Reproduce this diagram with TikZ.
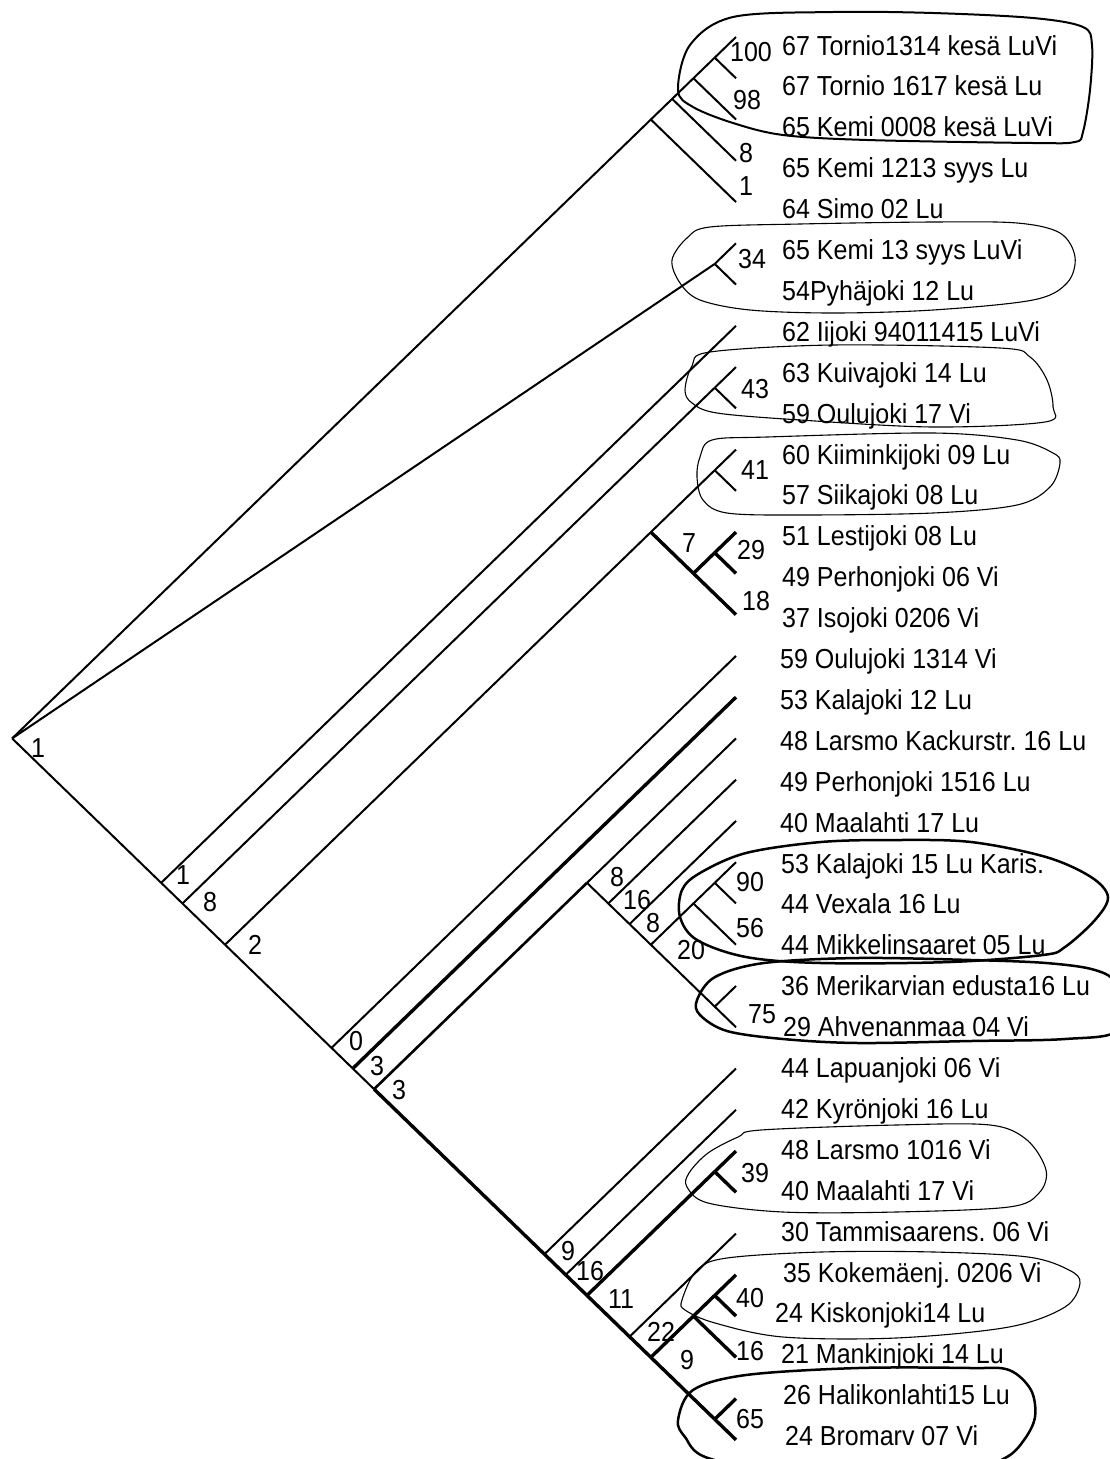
\documentclass[tikz,border=0pt]{standalone}
\usepackage{fontspec}
\setmainfont[FakeStretch=0.91]{Liberation Sans}
\frenchspacing
\begin{document}
\begin{tikzpicture}[x=1pt,y=-1pt,
  br/.style={line width=2pt},
  brmid/.style={line width=2.6pt},
  brthick/.style={line width=3.4pt},
  ovthin/.style={line width=1.1pt},
  ovmid/.style={line width=2pt},
  ovthick/.style={line width=2.5pt},
  lbl/.style={inner sep=0pt,anchor=center},
  leaf/.style={inner sep=0pt,anchor=base west},
  font=\fontsize{27.5}{31}\selectfont]
\useasboundingbox (0,0) rectangle (1110,1459);
\fill[white] (0,0) rectangle (1110,1459);
% tips
\coordinate (t1) at (736,37.00);
\coordinate (t2) at (736,78.26);
\coordinate (t3) at (736,119.52);
\coordinate (t4) at (736,160.78);
\coordinate (t5) at (736,202.04);
\coordinate (t6) at (736,243.30);
\coordinate (t7) at (736,284.56);
\coordinate (t8) at (736,325.82);
\coordinate (t9) at (736,367.08);
\coordinate (t10) at (736,408.34);
\coordinate (t11) at (736,449.60);
\coordinate (t12) at (736,490.86);
\coordinate (t13) at (736,532.12);
\coordinate (t14) at (736,573.38);
\coordinate (t15) at (736,614.64);
\coordinate (t16) at (736,655.90);
\coordinate (t17) at (736,697.16);
\coordinate (t18) at (736,738.42);
\coordinate (t19) at (736,779.68);
\coordinate (t20) at (736,820.94);
\coordinate (t21) at (736,862.20);
\coordinate (t22) at (736,903.46);
\coordinate (t23) at (736,944.72);
\coordinate (t24) at (736,985.98);
\coordinate (t25) at (736,1027.24);
\coordinate (t26) at (736,1068.50);
\coordinate (t27) at (736,1109.76);
\coordinate (t28) at (736,1151.02);
\coordinate (t29) at (736,1192.28);
\coordinate (t30) at (736,1233.54);
\coordinate (t31) at (736,1274.80);
\coordinate (t32) at (736,1316.06);
\coordinate (t33) at (736,1357.32);
\coordinate (t34) at (736,1398.58);
\coordinate (t35) at (736,1439.84);
% internal nodes
\coordinate (r) at (12.14,738.42);
\coordinate (nA) at (650.84,119.52);
\coordinate (nA1) at (672.13,98.89);
\coordinate (nA2) at (693.42,78.26);
\coordinate (nA3) at (714.71,57.63);
\coordinate (nB) at (714.71,263.93);
\coordinate (nC) at (161.17,882.83);
\coordinate (nD) at (182.46,903.46);
\coordinate (nE) at (714.71,387.71);
\coordinate (nG) at (225.04,944.72);
\coordinate (nX) at (650.84,532.12);
\coordinate (nH) at (714.71,470.23);
\coordinate (nJ) at (693.42,573.38);
\coordinate (nK) at (714.71,552.75);
\coordinate (nL) at (331.49,1047.87);
\coordinate (nM) at (352.78,1068.50);
\coordinate (nN) at (374.07,1089.13);
\coordinate (nO) at (586.97,882.83);
\coordinate (nO2) at (608.26,903.46);
\coordinate (nO3) at (629.55,924.09);
\coordinate (nO4) at (650.84,944.72);
\coordinate (nQa) at (693.42,903.46);
\coordinate (nQb) at (714.71,882.83);
\coordinate (nQc) at (714.71,1006.61);
\coordinate (nP) at (544.39,1254.17);
\coordinate (nQ) at (565.68,1274.80);
\coordinate (nR) at (586.97,1295.43);
\coordinate (nS) at (714.71,1171.65);
\coordinate (nT) at (629.55,1336.69);
\coordinate (nU) at (650.84,1357.32);
\coordinate (nV) at (693.42,1316.06);
\coordinate (nV1) at (714.71,1295.43);
\coordinate (nW) at (714.71,1419.21);
% thin branches
\draw[br] (r) -- (nA);
\draw[br] (r) -- (nB);
\draw[br] (r) -- (nC);
\draw[br] (nA) -- (nA1);
\draw[br] (nA) -- (t5);
\draw[br] (nA1) -- (nA2);
\draw[br] (nA1) -- (t4);
\draw[br] (nA2) -- (nA3);
\draw[br] (nA2) -- (t3);
\draw[br] (nA3) -- (t1);
\draw[br] (nA3) -- (t2);
\draw[br] (nB) -- (t6);
\draw[br] (nB) -- (t7);
\draw[br] (nC) -- (t8);
\draw[br] (nC) -- (nD);
\draw[br] (nD) -- (nE);
\draw[br] (nD) -- (nG);
\draw[br] (nE) -- (t9);
\draw[br] (nE) -- (t10);
\draw[br] (nG) -- (nX);
\draw[br] (nG) -- (nL);
\draw[br] (nX) -- (nH);
\draw[br] (nH) -- (t11);
\draw[br] (nH) -- (t12);
\draw[br] (nL) -- (t16);
\draw[br] (nL) -- (nM);
\draw[br] (nM) -- (nN);
\draw[br] (nO) -- (t18);
\draw[br] (nO) -- (nO2);
\draw[br] (nO2) -- (t19);
\draw[br] (nO2) -- (nO3);
\draw[br] (nO3) -- (t20);
\draw[br] (nO3) -- (nO4);
\draw[br] (nO4) -- (nQa);
\draw[br] (nO4) -- (nQc);
\draw[br] (nQa) -- (nQb);
\draw[br] (nQa) -- (t23);
\draw[br] (nQb) -- (t21);
\draw[br] (nQb) -- (t22);
\draw[br] (nQc) -- (t24);
\draw[br] (nQc) -- (t25);
\draw[br] (nP) -- (t26);
\draw[br] (nQ) -- (t27);
\draw[br] (nT) -- (t30);
\draw[brmid] (nN) -- (nO);
% thick branches
\draw[brthick] (nX) -- (nJ);
\draw[brthick] (nJ) -- (nK);
\draw[brthick] (nJ) -- (t15);
\draw[brthick] (nK) -- (t13);
\draw[brthick] (nK) -- (t14);
\draw[brthick] (nM) -- (t17);
\draw[brthick] (nN) -- (nP);
\draw[brthick] (nP) -- (nQ);
\draw[brthick] (nQ) -- (nR);
\draw[brthick] (nR) -- (nS);
\draw[brthick] (nR) -- (nT);
\draw[brthick] (nS) -- (t28);
\draw[brthick] (nS) -- (t29);
\draw[brthick] (nT) -- (nU);
\draw[brthick] (nU) -- (nV);
\draw[brthick] (nU) -- (nW);
\draw[brthick] (nV) -- (nV1);
\draw[brthick] (nV) -- (t33);
\draw[brthick] (nV1) -- (t31);
\draw[brthick] (nV1) -- (t32);
\draw[brthick] (nW) -- (t34);
\draw[brthick] (nW) -- (t35);
% ovals
\begin{scope}
\clip (0,0) rectangle (1110,1459);
\draw[ovmid] plot[smooth cycle,tension=0.55] coordinates {(678,90) (690,45) (733,17) (833,12) (933,13) (1033,18) (1083,27) (1092,45) (1090,90) (1083,132) (1075,142) (1033,143) (867,140) (783,135) (733,123) (693,107)};
\draw[ovthin] plot[smooth cycle,tension=0.55] coordinates {(672,260) (687,238) (710,227) (800,224) (933,222) (1017,223) (1060,233) (1075,257) (1067,283) (1033,300) (933,310) (833,313) (750,310) (700,300) (680,283)};
\draw[ovthin] plot[smooth cycle,tension=0.55] coordinates {(685,390) (692,366) (710,352) (833,345) (1000,348) (1030,357) (1047,380) (1053,407) (1045,422) (933,427) (800,420) (717,413) (692,403)};
\draw[ovthin] plot[smooth cycle,tension=0.55] coordinates {(697,477) (700,457) (712,440) (767,437) (933,433) (1017,440) (1053,453) (1060,463) (1050,487) (1017,505) (933,513) (800,515) (727,513) (703,500)};
\draw[ovthick] plot[smooth cycle,tension=0.55] coordinates {(1108,897) (1091,877) (1046,857) (971,842) (896,840) (821,842) (746,853) (700,873) (682,890) (680,917) (697,940) (746,957) (821,963) (950,962) (1043,955) (1065,947) (1095,920)};
\draw[ovthick] plot[smooth cycle,tension=0.55] coordinates {(697,1000) (715,977) (764,963) (858,958) (971,960) (1046,963) (1095,970) (1116,985) (1118,1030) (1065,1039) (971,1041) (858,1043) (783,1039) (727,1031) (700,1015)};
\draw[ovthin] plot[smooth cycle,tension=0.55] coordinates {(687,1187) (689,1173) (708,1153) (738,1137) (761,1130) (896,1125) (990,1125) (1027,1140) (1046,1170) (1039,1193) (1009,1207) (896,1212) (783,1212) (708,1203)};
\draw[ovthin] plot[smooth cycle,tension=0.55] coordinates {(682,1300) (697,1270) (727,1258) (821,1252) (934,1252) (1028,1257) (1069,1270) (1080,1283) (1065,1307) (1009,1327) (896,1338) (783,1337) (715,1323) (685,1310)};
\draw[ovthick] plot[smooth cycle,tension=0.55] coordinates {(678,1420) (693,1390) (746,1375) (858,1368) (971,1368) (1009,1370) (1031,1390) (1035,1417) (1024,1440) (1005,1458) (960,1472) (800,1475) (708,1458) (685,1437)};
\end{scope}
% leaf labels
\node[leaf] (l1) at (782,55.0) {67 Tornio1314 kesä LuVi};
\node[leaf] (l2) at (782,95.9) {67 Tornio 1617 kesä Lu};
\node[leaf] (l3) at (782,136.8) {65 Kemi 0008 kesä LuVi};
\node[leaf] (l4) at (782,177.7) {65 Kemi 1213 syys Lu};
\node[leaf] (l5) at (782,218.6) {64 Simo 02 Lu};
\node[leaf] (l6) at (782,259.5) {65 Kemi 13 syys LuVi};
\node[leaf] (l7) at (782,300.4) {54Pyhäjoki 12 Lu};
\node[leaf] (l8) at (782,341.3) {62 Iijoki 94011415 LuVi};
\node[leaf] (l9) at (782,382.2) {63 Kuivajoki 14 Lu};
\node[leaf] (l10) at (782,423.1) {59 Oulujoki 17 Vi};
\node[leaf] (l11) at (782,464.0) {60 Kiiminkijoki 09 Lu};
\node[leaf] (l12) at (782,504.9) {57 Siikajoki 08 Lu};
\node[leaf] (l13) at (782,545.8) {51 Lestijoki 08 Lu};
\node[leaf] (l14) at (782,586.7) {49 Perhonjoki 06 Vi};
\node[leaf] (l15) at (782,627.6) {37 Isojoki 0206 Vi};
\node[leaf] (l16) at (780,668.5) {59 Oulujoki 1314 Vi};
\node[leaf] (l17) at (780,709.4) {53 Kalajoki 12 Lu};
\node[leaf] (l18) at (780,750.3) {48 Larsmo Kackurstr. 16 Lu};
\node[leaf] (l19) at (780,791.2) {49 Perhonjoki 1516 Lu};
\node[leaf] (l20) at (780,832.1) {40 Maalahti 17 Lu};
\node[leaf] (l21) at (781,873.0) {53 Kalajoki 15 Lu Karis.};
\node[leaf] (l22) at (781,913.9) {44 Vexala 16 Lu};
\node[leaf] (l23) at (781,954.8) {44 Mikkelinsaaret 05 Lu};
\node[leaf] (l24) at (781,995.7) {36 Merikarvian edusta16 Lu};
\node[leaf] (l25) at (783,1036.6) {29 Ahvenanmaa 04 Vi};
\node[leaf] (l26) at (781,1077.5) {44 Lapuanjoki 06 Vi};
\node[leaf] (l27) at (781,1118.4) {42 Kyrönjoki 16 Lu};
\node[leaf] (l28) at (781,1159.3) {48 Larsmo 1016 Vi};
\node[leaf] (l29) at (781,1200.2) {40 Maalahti 17 Vi};
\node[leaf] (l30) at (781,1241.1) {30 Tammisaarens. 06 Vi};
\node[leaf] (l31) at (783,1282.0) {35 Kokemäenj. 0206 Vi};
\node[leaf] (l32) at (775,1322.9) {24 Kiskonjoki14 Lu};
\node[leaf] (l33) at (781,1363.8) {21 Mankinjoki 14 Lu};
\node[leaf] (l34) at (783,1404.7) {26 Halikonlahti15 Lu};
\node[leaf] (l35) at (785,1445.6) {24 Bromarv 07 Vi};
% support values
\node[lbl] (b100) at (751,52) {100};
\node[lbl] (b98) at (747,100) {98};
\node[lbl] (b8a) at (746,153) {8};
\node[lbl] (b1a) at (746,186) {1};
\node[lbl] (b34) at (752,259) {34};
\node[lbl] (b43) at (755,389) {43};
\node[lbl] (b41) at (755,470) {41};
\node[lbl] (b7) at (689,543) {7};
\node[lbl] (b29) at (751,550) {29};
\node[lbl] (b18) at (756,601) {18};
\node[lbl] (broot) at (38,748) {1};
\node[lbl] (b1b) at (183,875) {1};
\node[lbl] (b8b) at (210,902) {8};
\node[lbl] (b2) at (255,945) {2};
\node[lbl] (b0) at (356,1041) {0};
\node[lbl] (b3a) at (377,1066) {3};
\node[lbl] (b3b) at (399,1090) {3};
\node[lbl] (b8c) at (617,877) {8};
\node[lbl] (b16a) at (637,900) {16};
\node[lbl] (b8d) at (653,923) {8};
\node[lbl] (b20) at (691,950) {20};
\node[lbl] (b90) at (750,882) {90};
\node[lbl] (b56) at (750,928) {56};
\node[lbl] (b75) at (762,1014) {75};
\node[lbl] (b39) at (755,1173) {39};
\node[lbl] (b9a) at (568,1251) {9};
\node[lbl] (b16b) at (590,1271) {16};
\node[lbl] (b11) at (621,1299) {11};
\node[lbl] (b22) at (661,1332) {22};
\node[lbl] (b9b) at (687,1360) {9};
\node[lbl] (b40) at (750,1298) {40};
\node[lbl] (b16c) at (750,1351) {16};
\node[lbl] (b65) at (750,1419) {65};
\end{tikzpicture}
\end{document}
